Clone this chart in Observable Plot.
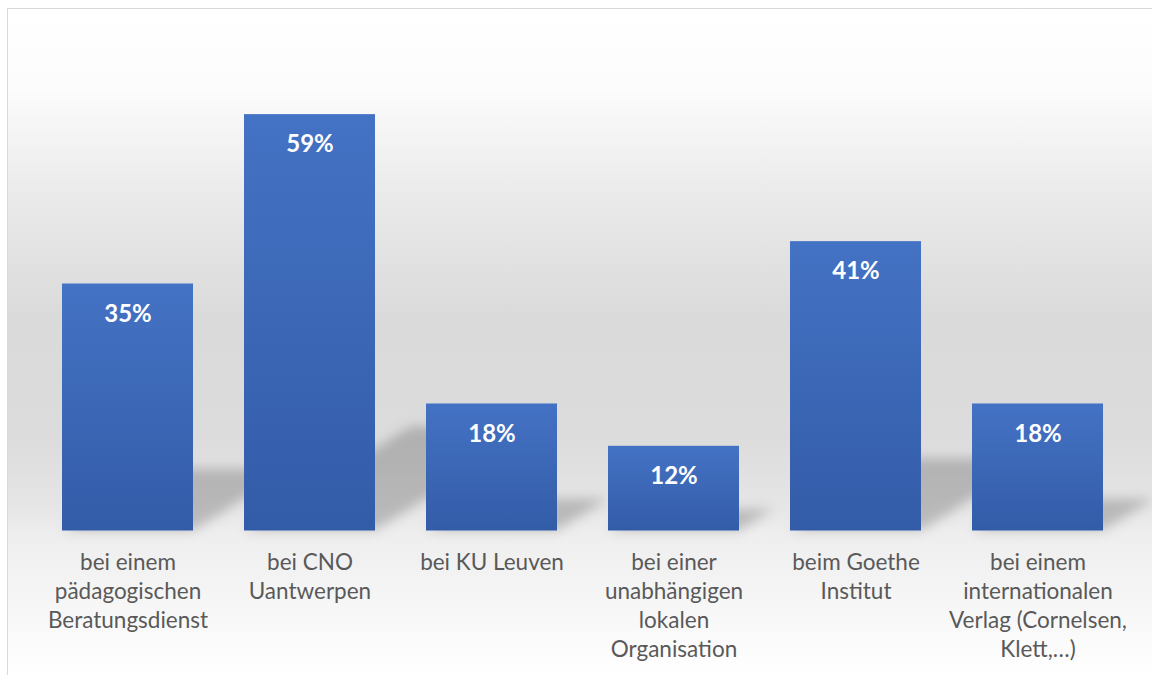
<!DOCTYPE html>
<html><head><meta charset="utf-8">
<script src="https://cdn.jsdelivr.net/npm/d3@7"></script>
<script src="https://cdn.jsdelivr.net/npm/@observablehq/plot@0.6"></script>
<style>
html,body{margin:0;padding:0;overflow:hidden;background:#fff;width:1152px;height:675px;}
#frame{position:absolute;left:7px;top:8px;width:1160px;height:680px;border:1px solid #d9d9d9;
background:linear-gradient(to bottom,#ffffff 0px,#fcfcfc 80px,#ebebeb 180px,#dadada 310px,#dcdcdc 430px,#e6e6e6 500px,#eeeeee 525px,#f2f2f2 560px,#f8f8f8 610px,#ffffff 667px);}
#chart{position:absolute;left:0;top:0;}
</style></head><body>
<div id="frame"></div><div id="chart"></div>
<script>
const categories = [
  "bei einem pädagogischen Beratungsdienst",
  "bei CNO Uantwerpen",
  "bei KU Leuven",
  "bei einer unabhängigen lokalen Organisation",
  "beim Goethe Institut",
  "bei einem internationalen Verlag (Cornelsen, Klett,…)"
];
const values = [35, 59, 18, 12, 41, 18];
const tickLabels = [
  "bei einem\npädagogischen\nBeratungsdienst",
  "bei CNO\nUantwerpen",
  "bei KU Leuven",
  "bei einer\nunabhängigen\nlokalen\nOrganisation",
  "beim Goethe\nInstitut",
  "bei einem\ninternationalen\nVerlag (Cornelsen,\nKlett,…)"
];
const valueLabels = ["35%", "59%", "18%", "12%", "41%", "18%"];

const data = categories.map((c, i) => ({category: c, value: values[i], label: tickLabels[i], text: valueLabels[i]}));

const defs = () => {
  const d = d3.create("svg:defs");
  const g = d.append("linearGradient").attr("id", "barGrad").attr("x1", 0).attr("y1", 0).attr("x2", 0).attr("y2", 1);
  g.append("stop").attr("offset", "0%").attr("stop-color", "#4472c4");
  g.append("stop").attr("offset", "100%").attr("stop-color", "#335ca8");
  const f = d.append("filter").attr("id", "blur").attr("x", "-20%").attr("y", "-50%").attr("width", "140%").attr("height", "200%");
  f.append("feGaussianBlur").attr("stdDeviation", 6);
  return d.node();
};

const chart = Plot.plot({
  width: 1152, height: 675,
  marginTop: 36.5, marginBottom: 144.5, marginLeft: 36, marginRight: 22,
  style: {background: "transparent", overflow: "visible", fontFamily: "Lato"},
  x: {domain: categories, paddingInner: 0.28, paddingOuter: 0.14, axis: null},
  y: {domain: [0, 70], axis: null},
  marks: [
    defs,
    Plot.barY(data, {x: "category", y: "value", fill: "#000", fillOpacity: 0.2}),
    Plot.barY(data, {x: "category", y: "value", fill: "url(#barGrad)"}),
    Plot.text(data, {x: "category", y: "value", text: "text", dy: 30, fill: "white", fontWeight: "bold", fontSize: 24, fontFamily: "Lato"}),
    Plot.text(data, {x: "category", y: 0, text: "label", dy: 18, lineAnchor: "top", lineHeight: 1.29, fontSize: 22.5, fill: "#595959", fontFamily: "Lato"})
  ]
});

const svg = d3.select(chart);
const base = chart.scale("y").apply(0);
const barGroups = svg.selectAll('g[aria-label="bar"]').nodes();
if (barGroups.length) {
  const sgNode = barGroups[0];
  sgNode.setAttribute("transform", `matrix(1,0,-0.4,0.25,${0.4 * base},${0.75 * base})`);
  const wrap = document.createElementNS("http://www.w3.org/2000/svg", "g");
  wrap.setAttribute("filter", "url(#blur)");
  sgNode.parentNode.insertBefore(wrap, sgNode);
  wrap.appendChild(sgNode);
}

document.getElementById("chart").appendChild(chart);
</script>
</body></html>
